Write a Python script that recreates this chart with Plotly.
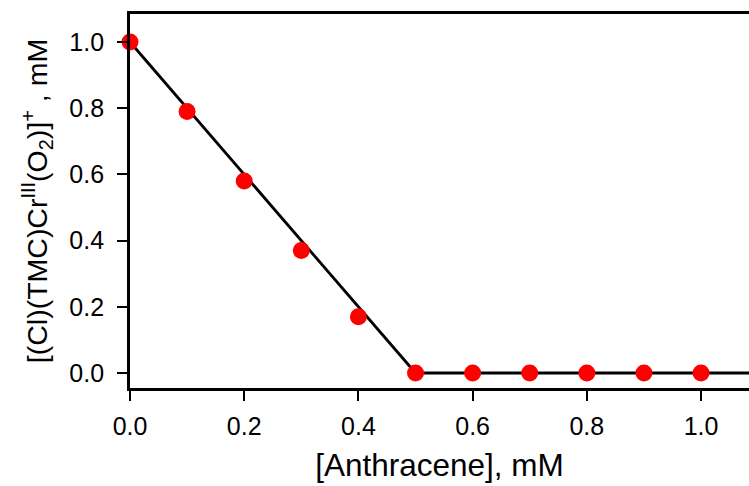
import plotly.graph_objects as go

# Data
anthracene_mM = [0.0, 0.1, 0.2, 0.3, 0.4, 0.5, 0.6, 0.7, 0.8, 0.9, 1.0]
complex_mM = [1.0, 0.79, 0.58, 0.37, 0.17, 0.0, 0.0, 0.0, 0.0, 0.0, 0.0]

fit_x = [0.0, 0.5, 1.2]
fit_y = [1.0, 0.0, 0.0]

tick_vals = [0.0, 0.2, 0.4, 0.6, 0.8, 1.0]

FONT = "Liberation Sans, Arial, sans-serif"

fig = go.Figure()
fig.add_trace(go.Scatter(
    x=fit_x, y=fit_y, mode="lines",
    line=dict(color="black", width=2.8),
    showlegend=False, hoverinfo="skip",
))
fig.add_trace(go.Scatter(
    x=anthracene_mM, y=complex_mM, mode="markers",
    marker=dict(color="#ff0000", size=17, line=dict(width=0)),
    cliponaxis=False, showlegend=False,
))

fig.update_layout(
    width=749, height=486,
    margin=dict(l=130, r=0, t=14, b=98),
    paper_bgcolor="white", plot_bgcolor="white",
    font=dict(family=FONT, color="black"),
    xaxis=dict(
        range=[0, 1.084], tickvals=tick_vals, tickformat=".1f",
        showgrid=False, zeroline=False,
        showline=True, linecolor="black", linewidth=2.8, mirror=True,
        ticks="outside", ticklen=10, tickwidth=2.2, tickcolor="black",
        tickfont=dict(size=25, family=FONT), ticklabelstandoff=4,
        title=dict(text="[Anthracene], mM", font=dict(size=31.5, family=FONT), standoff=16),
        automargin=False,
    ),
    yaxis=dict(
        range=[-0.0453, 1.0846], tickvals=tick_vals, tickformat=".1f",
        showgrid=False, zeroline=False,
        showline=True, linecolor="black", linewidth=2.8, mirror=False,
        ticks="outside", ticklen=10, tickwidth=2.2, tickcolor="black",
        tickfont=dict(size=25, family=FONT), ticklabelstandoff=8,
        title=dict(text="[(Cl)(TMC)Cr<sup>III</sup>(O<sub>2</sub>)]<sup>+</sup> , mM",
                   font=dict(size=28.5, family=FONT), standoff=14),
        automargin=False,
    ),
)

fig.write_html("out.html")
